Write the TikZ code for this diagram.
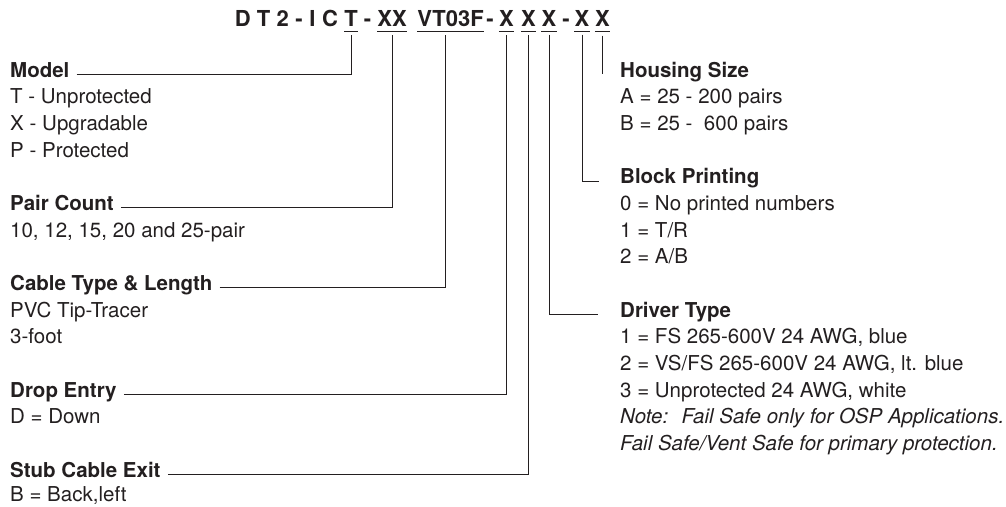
\documentclass[tikz,border=0pt]{standalone}
\usepackage{fontspec}
\setmainfont{TeX Gyre Heros}
\usepackage{tikz}

\definecolor{inchiostro}{RGB}{35,31,32}

\begin{document}
\begin{tikzpicture}[x=1pt,y=-1pt]

\tikzset{
    testo/.style={
        anchor=base west, inner sep=0pt, text=inchiostro,
        font=\fontsize{20.5}{26.67}\selectfont
    },
    voce/.style={testo, font=\fontsize{20.5}{26.67}\selectfont\bfseries},
    nota/.style={testo, font=\fontsize{20.5}{26.67}\selectfont\itshape},
    codice/.style={
        anchor=base, inner sep=0pt, text=inchiostro,
        font=\fontsize{22}{26.67}\selectfont\bfseries
    },
    filo/.style={draw=inchiostro, line width=0.9pt},
    sottolinea/.style={draw=inchiostro, line width=1.3pt}
}

\useasboundingbox (0,0) rectangle (1006,506);

% codice
\node[codice] (tD) at (242.7,26.7) {D};
\node[codice] (tT) at (263.7,26.7) {T};
\node[codice] (t2) at (282.7,26.7) {2};
\node[codice] (tm1) at (299,26.7) {-};
\node[codice] (tI) at (312.5,26.7) {I};
\node[codice] (tC) at (330,26.7) {C};
\node[codice] (uT) at (351,26.7) {T};
\node[codice] (tm2) at (367.5,26.7) {-};
\node[codice] (uXX) at (392,26.7) {XX};
\node[codice] (uVT) at (450.5,26.7) {VT03F};
\node[codice] (tm3) at (490,26.7) {-};
\node[codice] (uXa) at (506.5,26.7) {X};
\node[codice] (uXb) at (528.5,26.7) {X};
\node[codice] (uXc) at (549,26.7) {X};
\node[codice] (tm4) at (566,26.7) {-};
\node[codice] (uXd) at (582,26.7) {X};
\node[codice] (uXe) at (602.5,26.7) {X};

\foreach \n in {uT,uXX,uVT,uXa,uXb,uXc,uXd,uXe}
    \draw[sottolinea] ([yshift=-4.5pt]\n.base west) -- ([yshift=-4.5pt]\n.base east);

% colonna sinistra
\node[voce] (model) at (10,77) {Model};
\node[testo] (modT) at (10,103.7) {T - Unprotected};
\node[testo] (modX) at (10,130.3) {X - Upgradable};
\node[testo] (modP) at (10,157) {P - Protected};

\node[voce] (pair) at (10,210.3) {Pair Count};
\node[testo] (pairV) at (10,237) {10, 12, 15, 20 and 25-pair};

\node[voce] (cable) at (10,290.4) {Cable Type \& Length};
\node[testo] (cableA) at (10,317) {PVC Tip-Tracer};
\node[testo] (cableB) at (10,343.7) {3-foot};

\node[voce] (drop) at (10,397) {Drop Entry};
\node[testo] (dropD) at (10,423.7) {D = Down};

\node[voce] (stub) at (10,477) {Stub Cable Exit};
\node[testo] (stubB) at (10,501) {B = Back,left};

% colonna destra
\node[voce] (housing) at (620,77) {Housing Size};
\node[testo] (housA) at (620,103.7) {A = 25 - 200 pairs};
\node[testo] (housB) at (620,130.3) {B = 25 - \ 600 pairs};

\node[voce] (block) at (620,183.7) {Block Printing};
\node[testo] (blk0) at (620,210.3) {0 = No printed numbers};
\node[testo] (blk1) at (620,237) {1 = T/R};
\node[testo] (blk2) at (620,263.7) {2 = A/B};

\node[voce] (driver) at (620,317) {Driver Type};
\node[testo] (drv1) at (620,343.7) {1 = FS 265-600V 24 AWG, blue};
\node[testo] (drv2) at (620,370.4) {2 = VS/FS 265-600V 24 AWG, lt. blue};
\node[testo] (drv3) at (620,397) {3 = Unprotected 24 AWG, white};
\node[nota] (note1) at (620,423.7) {Note: \ Fail Safe only for OSP Applications.};
\node[nota] (note2) at (620,450.4) {Fail Safe/Vent Safe for primary protection.};

% collegamenti
\draw[filo] ([xshift=7pt]model.mid east) -| ([yshift=-8pt]uT.base);
\draw[filo] ([xshift=7pt]pair.mid east) -| ([yshift=-8pt]uXX.base);
\draw[filo] ([xshift=7pt]cable.mid east) -| ([xshift=-5pt,yshift=-8pt]uVT.base);
\draw[filo] ([xshift=7pt]drop.mid east) -| ([yshift=-8pt]uXa.base);
\draw[filo] ([xshift=7pt]stub.mid east) -| ([yshift=-8pt]uXb.base);
\draw[filo] ([yshift=-8pt]uXc.base) |- ([xshift=-22pt]driver.mid west);
\draw[filo] ([yshift=-8pt]uXd.base) |- ([xshift=-21pt]block.mid west);
\draw[filo] ([yshift=-9pt]uXe.base) -- (uXe.base |- housing.mid west);

\end{tikzpicture}
\end{document}
